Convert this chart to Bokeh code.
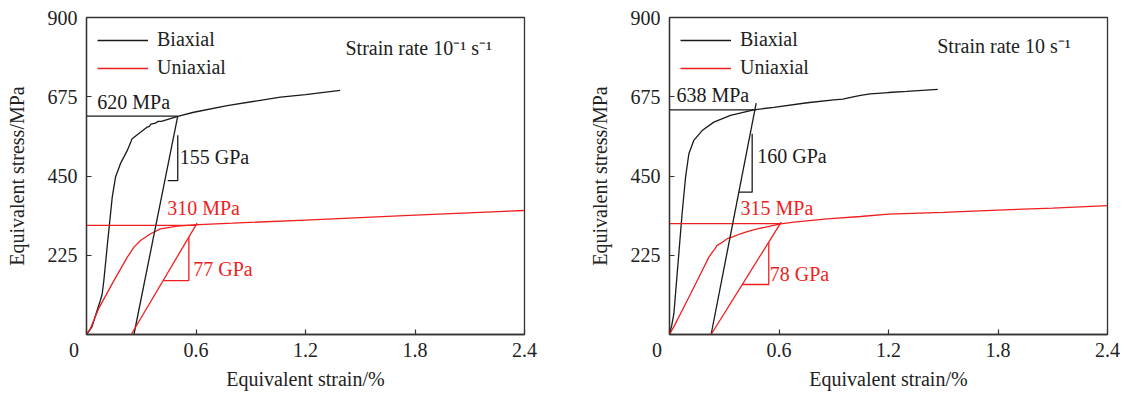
from bokeh.plotting import figure
from bokeh.layouts import row
from bokeh.models import Range1d, FixedTicker, Legend, LegendItem
from bokeh.core.properties import value
from bokeh.embed import file_html
from bokeh.resources import INLINE

# ---- strain rate 10^-1 s^-1 ----
biax_strain_slow = [0, 0.03, 0.058, 0.075, 0.086, 0.095, 0.113, 0.128, 0.141, 0.159, 0.186, 0.223,
                    0.250, 0.296, 0.333, 0.345, 0.352, 0.378, 0.392, 0.41, 0.442, 0.500, 0.588,
                    0.771, 1.063, 1.2, 1.39]
biax_stress_slow = [0, 22, 68, 95, 115, 153, 248, 324, 390, 447, 485, 522,
                    556, 574, 589, 591, 597, 600, 605, 605, 610, 619, 631,
                    650, 674, 681, 693]
uniax_strain_slow = [0, 0.02, 0.068, 0.150, 0.223, 0.260, 0.296, 0.351, 0.405, 0.497, 0.588,
                     0.8, 1.2, 1.8, 2.4]
uniax_stress_slow = [0, 15, 75, 153, 219, 248, 267, 286, 300, 307.5, 311.5,
                     316, 325, 339, 352]

# ---- strain rate 10 s^-1 ----
biax_strain_fast = [0, 0.012, 0.024, 0.051, 0.069, 0.088, 0.106, 0.133, 0.179, 0.243, 0.334,
                    0.462, 0.572, 0.755, 0.90, 0.95, 1.0, 1.047, 1.1, 1.2, 1.3, 1.47]
biax_stress_fast = [0, 25, 59, 229, 343, 447, 513, 551, 579, 603, 622,
                    638, 645, 658, 666, 668, 674, 679, 683, 687, 690, 696]
uniax_strain_fast = [0, 0.03, 0.060, 0.115, 0.170, 0.215, 0.235, 0.250, 0.261, 0.290, 0.316, 0.35,
                     0.389, 0.43, 0.481, 0.54, 0.608, 0.681, 0.864, 1.047, 1.2, 1.5, 1.8, 2.1, 2.4]
uniax_stress_fast = [0, 28, 59, 115, 172, 219, 234, 244, 253, 262, 272, 278,
                     286, 293, 300, 306, 314, 319, 328, 335, 342, 347, 353, 359, 366]

# yield stresses (MPa) and elastic moduli (GPa)
yield_biax = [620, 638]
yield_uniax = [310, 315]
modulus_biax = [155, 160]
modulus_uniax = [77, 78]

# unloading lines: strain at zero stress, top point (strain, stress)
unload_biax = [(0.26, 0.500, 620), (0.228, 0.475, 657)]
unload_uniax = [(0.245, 0.606, 316), (0.228, 0.612, 319)]
# strain where each yield line meets the curve
yield_biax_end = [0.500, 0.471]
yield_uniax_end = [0.60, 0.608]

rate_titles = ["Strain rate 10\u207b\u00b9 s\u207b\u00b9", "Strain rate 10 s\u207b\u00b9"]

x_ticks = [0, 0.6, 1.2, 1.8, 2.4]
y_ticks = [225, 450, 675, 900]
# the origin label sits a little left of the corner: pad it with no-break spaces
origin_label = "0" + "\u00a0" * 5

FONT = "Liberation Serif"
BLACK = "#1a1a1a"
RED = "#f01e1e"
AX = "#333333"


def panel(i, bx, by, ux, uy, border_left, border_right):
    p = figure(width=border_left + 438 + border_right, height=396,
               x_range=Range1d(0, 2.4), y_range=Range1d(0, 900),
               output_backend="svg", toolbar_location=None,
               min_border_left=border_left, min_border_right=border_right,
               min_border_top=17, min_border_bottom=62)
    p.grid.visible = False
    p.outline_line_color = AX
    p.outline_line_width = 1.3
    p.background_fill_color = "white"

    for ax in (p.xaxis[0], p.yaxis[0]):
        ax.axis_line_color = AX
        ax.axis_line_width = 1.3
        ax.major_tick_line_color = AX
        ax.major_tick_line_width = 1.2
        ax.major_tick_in = 5
        ax.major_tick_out = 0
        ax.minor_tick_line_color = None
        ax.major_label_text_font = FONT
        ax.major_label_text_font_size = "20px"
        ax.major_label_text_color = "#222222"
        ax.axis_label_text_font = FONT
        ax.axis_label_text_font_size = "20px"
        ax.axis_label_text_font_style = "normal"
        ax.axis_label_text_color = "#222222"
    p.xaxis.ticker = FixedTicker(ticks=x_ticks)
    p.xaxis.major_label_overrides = {0: origin_label}
    p.yaxis.ticker = FixedTicker(ticks=y_ticks)
    p.xaxis.major_label_standoff = 4
    p.yaxis.major_label_standoff = 9
    p.xaxis.axis_label = "Equivalent strain/%"
    p.yaxis.axis_label = "Equivalent stress/MPa"
    p.xaxis.axis_label_standoff = 4
    p.yaxis.axis_label_standoff = 17

    rb = p.line(bx, by, line_color=BLACK, line_width=1.3)
    ru = p.line(ux, uy, line_color=RED, line_width=1.3)

    # yield lines
    p.line([0, yield_biax_end[i]], [yield_biax[i]] * 2, line_color=BLACK, line_width=1.3)
    p.line([0, yield_uniax_end[i]], [yield_uniax[i]] * 2, line_color=RED, line_width=1.3)

    # unloading lines and slope triangles
    for (x0, xt, yt), col in ((unload_biax[i], BLACK), (unload_uniax[i], RED)):
        p.line([x0, xt], [0, yt], line_color=col, line_width=1.3)

    tri_b = [((0.445, 0.500, 0.500), (437, 437, 566)), ((0.380, 0.453, 0.453), (404, 404, 570))][i]
    tri_u = [((0.420, 0.561, 0.561), (153, 153, 276)), ((0.399, 0.544, 0.544), (142, 142, 262))][i]
    p.line(list(tri_b[0]), list(tri_b[1]), line_color=BLACK, line_width=1.3)
    p.line(list(tri_u[0]), list(tri_u[1]), line_color=RED, line_width=1.3)

    # annotations
    lab_pos = [
        [(0.059, 660), (0.511, 503), (0.442, 358), (0.585, 185)],
        [(0.038, 679), (0.481, 508), (0.389, 359), (0.549, 172)],
    ][i]
    texts = [f"{yield_biax[i]} MPa", f"{modulus_biax[i]} GPa",
             f"{yield_uniax[i]} MPa", f"{modulus_uniax[i]} GPa"]
    colors = [BLACK, BLACK, RED, RED]
    p.text(x=[q[0] for q in lab_pos], y=[q[1] for q in lab_pos], text=texts,
           text_color=colors, text_font=value(FONT), text_font_size="20px",
           text_align="left", text_baseline="middle")

    p.text(x=[[1.419, 1.467][i]], y=[[812, 820][i]], text=[rate_titles[i]],
           text_color="#222222", text_font=value(FONT), text_font_size="20px",
           text_align="left", text_baseline="middle")

    legend = Legend(items=[LegendItem(label="Biaxial", renderers=[rb]),
                           LegendItem(label="Uniaxial", renderers=[ru])],
                    location="top_left", margin=0, padding=11, spacing=5,
                    glyph_width=51, label_standoff=9,
                    label_text_font=FONT, label_text_font_size="20px",
                    label_text_color="#222222",
                    background_fill_alpha=0, border_line_alpha=0)
    p.add_layout(legend)
    return p


p1 = panel(0, biax_strain_slow, biax_stress_slow, uniax_strain_slow, uniax_stress_slow, 86, 39)
p2 = panel(1, biax_strain_fast, biax_stress_fast, uniax_strain_fast, uniax_stress_fast, 106, 19)

layout = row(p1, p2)
open("out.html", "w").write(file_html(layout, INLINE))
